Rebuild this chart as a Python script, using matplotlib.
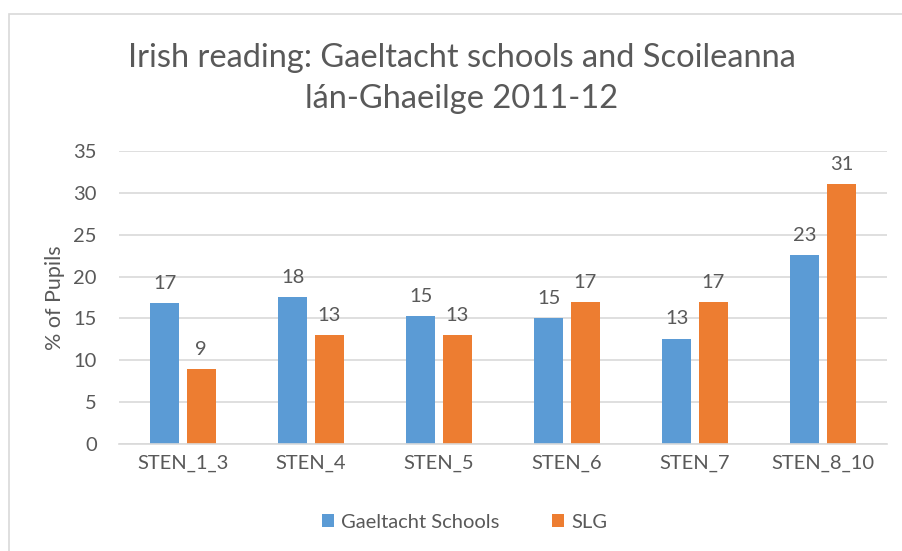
import matplotlib.pyplot as plt
import numpy as np
from matplotlib.patches import Rectangle

categories = ["STEN_1_3", "STEN_4", "STEN_5", "STEN_6", "STEN_7", "STEN_8_10"]
gaeltacht = [16.8, 17.6, 15.3, 15.0, 12.6, 22.6]
slg = [9.0, 13.0, 13.0, 17.0, 17.0, 31.0]
series_names = ["Gaeltacht Schools", "SLG"]

blue = "#5B9BD5"
orange = "#ED7D31"
text_gray = "#595959"
grid_gray = "#D9D9D9"

plt.rcParams["font.family"] = ["Lato", "DejaVu Sans"]

fig = plt.figure(figsize=(9.02, 5.51), dpi=100)
ax = fig.add_axes([0.1319, 0.1942, 0.8515, 0.5318])

# light chart-area frame
fig.patches.append(Rectangle((9 / 902, -0.05), 1.0, 1 - 14 / 551 + 0.05,
                             transform=fig.transFigure, fill=False,
                             edgecolor=grid_gray, linewidth=1.2))

x = np.arange(len(categories))
w = 0.226
off = 0.143
b1 = ax.bar(x - off, gaeltacht, w, color=blue, label=series_names[0])
b2 = ax.bar(x + off, slg, w, color=orange, label=series_names[1])

for bars, vals in [(b1, gaeltacht), (b2, slg)]:
    for rect, v in zip(bars, vals):
        ax.annotate(f"{v:.0f}", (rect.get_x() + rect.get_width() / 2, v),
                    xytext=(0, 8), textcoords="offset points",
                    ha="center", va="bottom", fontsize=14.5, color=text_gray)

ax.set_xlim(-0.5, len(categories) - 0.5)
ax.set_ylim(0, 35)
ax.set_yticks(range(0, 36, 5))
ax.set_xticks(x)
ax.set_xticklabels(categories)
ax.yaxis.grid(True, color=grid_gray, linewidth=1.2)
ax.set_axisbelow(True)
for s in ["top", "right", "left"]:
    ax.spines[s].set_visible(False)
ax.spines["bottom"].set_color(grid_gray)
ax.spines["bottom"].set_linewidth(1.2)
ax.tick_params(axis="both", length=0, labelsize=14.5, labelcolor=text_gray)
ax.tick_params(axis="x", pad=8)
ax.tick_params(axis="y", pad=16)
ax.set_ylabel("% of Pupils", fontsize=15.5, color=text_gray, labelpad=6)

fig.text(0.512, 0.857, "Irish reading: Gaeltacht schools and Scoileanna\nlán-Ghaeilge 2011-12",
         ha="center", va="center", fontsize=23.5, color=text_gray, linespacing=1.45)

fig.legend(loc="center", bbox_to_anchor=(0.515, 1 - 522 / 551), ncol=2, frameon=False,
           fontsize=14.5, labelcolor=text_gray, handlelength=0.6, handleheight=0.6,
           handletextpad=0.35, columnspacing=2.6)

fig.savefig("out.png", dpi=100)
